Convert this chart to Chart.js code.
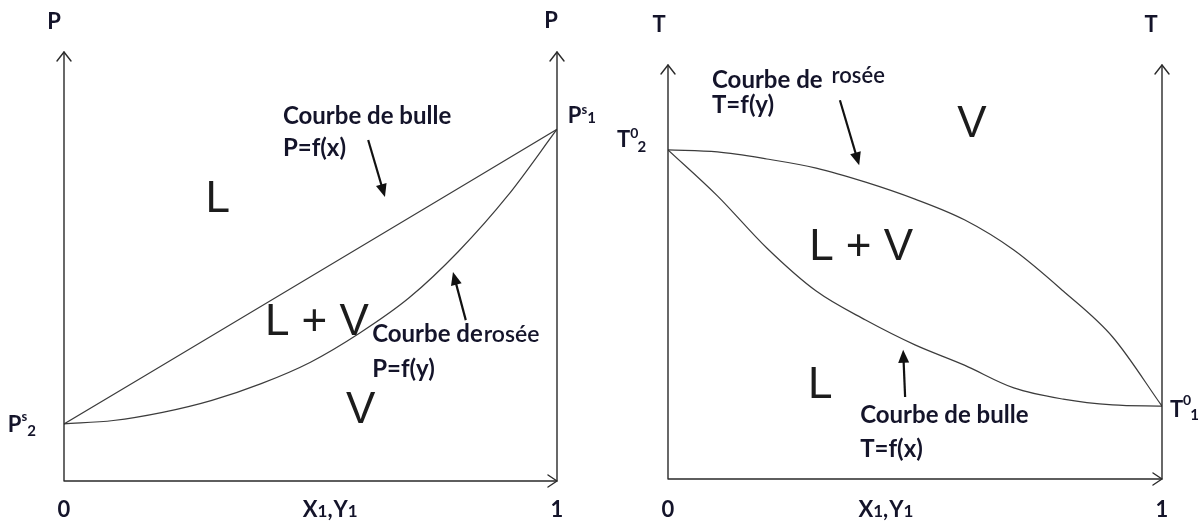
<!DOCTYPE html>
<html>
<head>
<meta charset="utf-8">
<script src="https://cdn.jsdelivr.net/npm/chart.js@4.4.1/dist/chart.umd.min.js"></script>
<style>
  body { margin: 0; background: #fff; }
  canvas { position: absolute; top: 0; }
  #pxyChart { left: 0; }
  #txyChart { left: 600px; }
</style>
</head>
<body>
<canvas id="pxyChart" width="600" height="522"></canvas>
<canvas id="txyChart" width="603" height="522"></canvas>
<script>
  // mole fraction of component 1 (x1 for the liquid, y1 for the vapour)
  const compositions = [0, 0.1, 0.2, 0.3, 0.4, 0.5, 0.6, 0.7, 0.8, 0.9, 1];

  // P-x-y at constant T : bubble line is straight (Raoult), dew line sags below it
  const bubbleComp = [0, 0.5, 1];
  const bubblePressure = [13.3, 47.6, 82.0];
  const dewPressure = [13.3, 14.1, 16.0, 18.8, 22.7, 27.7, 34.5, 42.7, 53.5, 66.5, 82.0];

  // T-x-y at constant P : dew curve on top, bubble curve underneath
  const dewTemperature = [79.5, 79.0, 77.3, 75.1, 71.7, 67.6, 62.6, 55.3, 45.4, 34.3, 17.6];
  const bubbleTemperature = [79.5, 68.4, 55.8, 45.4, 38.4, 32.4, 27.5, 22.0, 19.3, 17.9, 17.6];

  const axisMax = 100;
  const tickLabels = ["0", "1"];

  const TEXT_COLOR = "#14142a";
  const LINE_COLOR = "#3c3c3c";
  const LABEL_FONT = "Lato";
  const REGION_FONT = "\"Liberation Sans\"";
  const NOTE = 24;

  function points(xs, ys) {
    return xs.map((x, i) => ({ x, y: ys[i] }));
  }

  function curve(data) {
    return {
      data,
      showLine: true,
      pointRadius: 0,
      borderColor: LINE_COLOR,
      borderWidth: 1.2,
      cubicInterpolationMode: "monotone",
      fill: false
    };
  }

  // text made of runs: {t, size, dy, weight, gap}
  function drawRuns(ctx, x, y, runs, align) {
    const parts = runs.map((run) => {
      const size = run.size || 22;
      const weight = run.weight || "bold";
      const family = run.family || LABEL_FONT;
      const font = `${weight} ${size}px ${family}`;
      ctx.font = font;
      return { ...run, font, width: ctx.measureText(run.t).width + (run.gap || 0) };
    });
    const total = parts.reduce((sum, part) => sum + part.width, 0);
    let cursor = x;
    if (align === "center") cursor = x - total / 2;
    if (align === "right") cursor = x - total;

    ctx.textAlign = "left";
    ctx.textBaseline = "alphabetic";
    parts.forEach((part) => {
      ctx.font = part.font;
      ctx.fillText(part.t, cursor, y + (part.dy || 0));
      cursor += part.width;
    });
  }

  function drawPointer(ctx, x0, y0, x1, y1) {
    const angle = Math.atan2(y1 - y0, x1 - x0);
    const head = 13;
    const half = 5.5;
    ctx.beginPath();
    ctx.moveTo(x0, y0);
    ctx.lineTo(x1 - Math.cos(angle) * head * 0.8, y1 - Math.sin(angle) * head * 0.8);
    ctx.lineWidth = 2.2;
    ctx.strokeStyle = "#111";
    ctx.stroke();

    ctx.beginPath();
    ctx.moveTo(x1, y1);
    ctx.lineTo(x1 - Math.cos(angle) * head - Math.sin(angle) * half, y1 - Math.sin(angle) * head + Math.cos(angle) * half);
    ctx.lineTo(x1 - Math.cos(angle) * head + Math.sin(angle) * half, y1 - Math.sin(angle) * head - Math.cos(angle) * half);
    ctx.closePath();
    ctx.fillStyle = "#111";
    ctx.fill();
  }

  function drawAxes(ctx, area) {
    ctx.save();
    ctx.strokeStyle = "#2a2a2a";
    ctx.lineWidth = 1.4;
    ctx.lineCap = "round";
    ctx.lineJoin = "round";

    ctx.beginPath();
    ctx.moveTo(area.left, area.top);
    ctx.lineTo(area.left, area.bottom);
    ctx.lineTo(area.right, area.bottom);
    ctx.moveTo(area.right, area.bottom);
    ctx.lineTo(area.right, area.top);
    ctx.stroke();

    // open chevrons at the ends of the three axes
    ctx.beginPath();
    [area.left, area.right].forEach((x) => {
      ctx.moveTo(x - 7, area.top + 9);
      ctx.lineTo(x, area.top);
      ctx.lineTo(x + 7, area.top + 9);
    });
    ctx.moveTo(area.right - 9, area.bottom - 6);
    ctx.lineTo(area.right, area.bottom);
    ctx.lineTo(area.right - 9, area.bottom + 6);
    ctx.stroke();
    ctx.restore();
  }

  const diagramOverlay = {
    id: "diagramOverlay",
    afterDatasetsDraw(chart, args, opts) {
      const { ctx, chartArea, scales } = chart;
      const px = (v) => scales.x.getPixelForValue(v);
      const py = (v) => scales.y.getPixelForValue(v);

      drawAxes(ctx, chartArea);

      ctx.save();
      ctx.fillStyle = TEXT_COLOR;
      opts.texts.forEach((item) => drawRuns(ctx, px(item.x), py(item.y), item.runs, item.align));

      tickLabels.forEach((label, i) => {
        drawRuns(ctx, px(i), py(opts.tickY), [{ t: label }], "center");
      });
      drawRuns(ctx, px(opts.compLabelX), py(opts.tickY), [
        { t: "X" }, { t: "1", size: 17 }, { t: ",", gap: 1 }, { t: "Y" }, { t: "1", size: 17 }
      ], "center");

      ctx.fillStyle = "#1c1c1c";
      opts.regions.forEach((item) => {
        drawRuns(ctx, px(item.x), py(item.y), [{ t: item.t, size: 44, weight: "normal", family: REGION_FONT }], "center");
      });

      opts.pointers.forEach((p) => drawPointer(ctx, px(p.from[0]), py(p.from[1]), px(p.to[0]), py(p.to[1])));
      ctx.restore();
    }
  };

  const pxyNotes = {
    tickY: -8.4,
    compLabelX: 0.54,
    texts: [
      { x: -0.02, y: 105.4, runs: [{ t: "P" }], align: "center" },
      { x: 0.988, y: 105.6, runs: [{ t: "P" }], align: "center" },
      { x: 1.022, y: 83.4, runs: [{ t: "P", size: 22 }, { t: "s", size: 13, dy: -9 }, { t: "1", size: 15, dy: 0 }], align: "left" },
      { x: -0.114, y: 11.4, runs: [{ t: "P", size: 22 }, { t: "s", size: 13, dy: -11 }, { t: "2", size: 15, dy: 4 }], align: "left" },
      { x: 0.444, y: 83.2, runs: [{ t: "Courbe de bulle", size: NOTE }], align: "left" },
      { x: 0.444, y: 75.8, runs: [{ t: "P=f(x)", size: NOTE }], align: "left" },
      { x: 0.625, y: 32.4, runs: [{ t: "Courbe de", size: NOTE, gap: 1 }, { t: "rosée", weight: "600", size: 23 }], align: "left" },
      { x: 0.625, y: 24.2, runs: [{ t: "P=f(y)", size: NOTE }], align: "left" }
    ],
    regions: [
      { t: "L", x: 0.312, y: 62.7 },
      { t: "L + V", x: 0.513, y: 34.0 },
      { t: "V", x: 0.602, y: 13.5 }
    ],
    pointers: [
      { from: [0.617, 79.5], to: [0.651, 66.2] },
      { from: [0.815, 37.5], to: [0.789, 48.7] }
    ]
  };

  const txyNotes = {
    tickY: -9.2,
    compLabelX: 0.441,
    texts: [
      { x: -0.018, y: 108.0, runs: [{ t: "T" }], align: "center" },
      { x: 0.978, y: 108.0, runs: [{ t: "T" }], align: "center" },
      { x: -0.103, y: 80.2, runs: [{ t: "T", size: 22 }, { t: "0", size: 14, dy: -9, gap: -1 }, { t: "2", size: 15, dy: 5 }], align: "left" },
      { x: 1.016, y: 15.0, runs: [{ t: "T", size: 22 }, { t: "0", size: 14, dy: -12, gap: -1 }, { t: "1", size: 15, dy: 3 }], align: "left" },
      { x: 0.089, y: 94.4, runs: [{ t: "Courbe de", size: NOTE, gap: 9 }, { t: "rosée", weight: "600", size: 22, dy: -5 }], align: "left" },
      { x: 0.089, y: 88.4, runs: [{ t: "T=f(y)", size: NOTE }], align: "left" },
      { x: 0.389, y: 13.5, runs: [{ t: "Courbe de bulle", size: NOTE }], align: "left" },
      { x: 0.389, y: 5.3, runs: [{ t: "T=f(x)", size: NOTE }], align: "left" }
    ],
    regions: [
      { t: "V", x: 0.615, y: 82.6 },
      { t: "L + V", x: 0.391, y: 52.9 },
      { t: "L", x: 0.308, y: 19.6 }
    ],
    pointers: [
      { from: [0.348, 91.5], to: [0.387, 75.8] },
      { from: [0.480, 19.8], to: [0.476, 31.2] }
    ]
  };

  function buildDiagram(canvasId, datasets, padding, notes) {
    return new Chart(document.getElementById(canvasId), {
      type: "scatter",
      data: { datasets },
      options: {
        responsive: false,
        animation: false,
        layout: { padding },
        scales: {
          x: { type: "linear", min: 0, max: 1, display: false },
          y: { type: "linear", min: 0, max: axisMax, display: false }
        },
        plugins: {
          legend: { display: false },
          tooltip: { enabled: false },
          diagramOverlay: notes
        }
      },
      plugins: [diagramOverlay]
    });
  }

  buildDiagram("pxyChart", [
    curve(points(bubbleComp, bubblePressure)),
    curve(points(compositions, dewPressure))
  ], { left: 64, right: 43, top: 52, bottom: 41 }, pxyNotes);

  buildDiagram("txyChart", [
    curve(points(compositions, dewTemperature)),
    curve(points(compositions, bubbleTemperature))
  ], { left: 68, right: 41, top: 65, bottom: 43 }, txyNotes);
</script>
</body>
</html>
